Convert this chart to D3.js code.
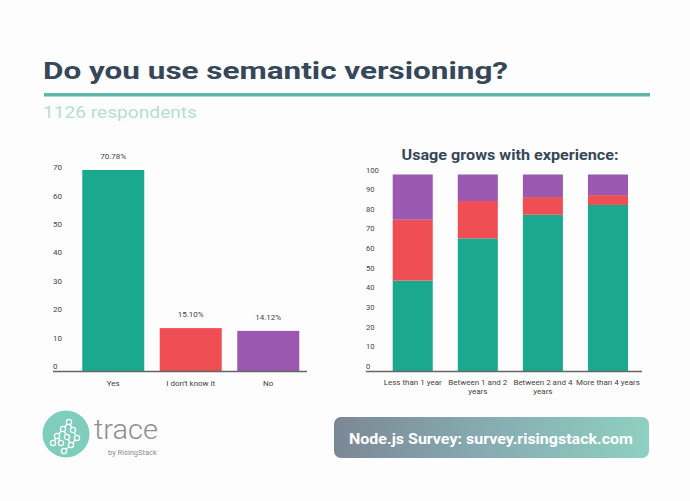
<!DOCTYPE html>
<html>
<head>
<meta charset="utf-8">
<script src="https://cdn.jsdelivr.net/npm/d3@7"></script>
<style>
  body { margin: 0; background: #fdfdfd; }
  text { font-family: Roboto, "Open Sans", sans-serif; }
</style>
</head>
<body>
<div id="chart"></div>
<script>
// left chart data
const answers = ["Yes", "I don't know it", "No"];
const shares = [70.78, 15.10, 14.12];
const shareLabels = ["70.78%", "15.10%", "14.12%"];
const leftTicks = [0, 10, 20, 30, 40, 50, 60, 70];

// right chart data (percent of each experience group)
const experience = ["Less than 1 year", "Between 1 and 2 years", "Between 2 and 4 years", "More than 4 years"];
const experienceLines = [["Less than 1 year"], ["Between 1 and 2", "years"], ["Between 2 and 4", "years"], ["More than 4 years"]];
const usesYes = [46, 67.5, 79.5, 84.5];
const dontKnow = [31, 19, 9, 5];
const usesNo = [23, 13.5, 11.5, 10.5];
const rightTicks = [0, 10, 20, 30, 40, 50, 60, 70, 80, 90, 100];

const colors = ["#1aa88f", "#f04e55", "#9b58b1"];

const width = 690, height = 501;

const svg = d3.select("#chart").append("svg")
    .attr("width", width)
    .attr("height", height);

svg.append("rect").attr("width", width).attr("height", height).attr("fill", "#fdfdfd");

// header
svg.append("text")
    .attr("x", 43).attr("y", 79)
    .attr("font-family", "'Open Sans', sans-serif")
    .attr("font-weight", 700)
    .attr("font-size", 24)
    .attr("fill", "#36475a")
    .attr("textLength", 465)
    .attr("lengthAdjust", "spacingAndGlyphs")
    .text("Do you use semantic versioning?");

svg.append("rect")
    .attr("x", 44).attr("y", 93).attr("width", 606).attr("height", 3.5)
    .attr("fill", "#5bb8a8");

svg.append("text")
    .attr("x", 43).attr("y", 118)
    .attr("font-family", "'Open Sans', sans-serif")
    .attr("font-size", 17)
    .attr("fill", "#b6ddd5")
    .attr("textLength", 154)
    .attr("lengthAdjust", "spacingAndGlyphs")
    .text("1126 respondents");

// ---- left chart ----
const x1 = d3.scaleBand().domain(answers).range([74.5, 307]).paddingInner(0.2).paddingOuter(0.1);
const y1 = d3.scaleLinear().domain([0, 70]).range([371, 172.2]);

const left = svg.append("g");

left.selectAll(".ytick")
  .data(leftTicks)
  .join("text")
    .attr("x", 53)
    .attr("y", d => y1(d) - 2)
    .attr("font-size", 8)
    .attr("fill", "#444")
    .text(d => d);

left.selectAll(".bar")
  .data(answers)
  .join("rect")
    .attr("x", d => x1(d))
    .attr("y", (d, i) => y1(shares[i]))
    .attr("width", x1.bandwidth())
    .attr("height", (d, i) => y1(0) - y1(shares[i]))
    .attr("fill", (d, i) => colors[i]);

left.selectAll(".val")
  .data(answers)
  .join("text")
    .attr("x", d => x1(d) + x1.bandwidth() / 2)
    .attr("y", (d, i) => y1(shares[i]) - 11)
    .attr("text-anchor", "middle")
    .attr("font-size", 8)
    .attr("fill", "#444")
    .text((d, i) => shareLabels[i]);

left.append("line")
    .attr("x1", 53).attr("x2", 307)
    .attr("y1", y1(0) + 0.5).attr("y2", y1(0) + 0.5)
    .attr("stroke", "#666").attr("stroke-width", 1.3);

left.selectAll(".xlab")
  .data(answers)
  .join("text")
    .attr("x", d => x1(d) + x1.bandwidth() / 2)
    .attr("y", 386)
    .attr("text-anchor", "middle")
    .attr("font-size", 8)
    .attr("fill", "#444")
    .text(d => d);

// ---- right chart ----
const x2 = d3.scaleBand().domain(experience).range([379.7, 641]).paddingInner(0.385).paddingOuter(0.2);
const y2 = d3.scaleLinear().domain([0, 100]).range([371, 174.5]);

const right = svg.append("g");

right.append("text")
    .attr("x", 510).attr("y", 160)
    .attr("text-anchor", "middle")
    .attr("font-family", "'Open Sans', sans-serif")
    .attr("font-weight", 700)
    .attr("font-size", 14)
    .attr("fill", "#36475a")
    .attr("textLength", 217)
    .attr("lengthAdjust", "spacingAndGlyphs")
    .text("Usage grows with experience:");

right.selectAll(".ytick")
  .data(rightTicks)
  .join("text")
    .attr("x", 366)
    .attr("y", d => y2(d) - 2)
    .attr("font-size", 7.5)
    .attr("fill", "#444")
    .text(d => d);

const rows = experience.map((e, i) => ({ key: e, yes: usesYes[i], dk: dontKnow[i], no: usesNo[i] }));
const stack = d3.stack().keys(["yes", "dk", "no"])(rows);

right.selectAll(".layer")
  .data(stack)
  .join("g")
    .attr("fill", (d, i) => colors[i])
  .selectAll("rect")
  .data(d => d)
  .join("rect")
    .attr("x", d => x2(d.data.key))
    .attr("y", d => y2(d[1]))
    .attr("width", x2.bandwidth())
    .attr("height", d => y2(d[0]) - y2(d[1]));

right.append("line")
    .attr("x1", 366).attr("x2", 642)
    .attr("y1", y2(0) + 0.5).attr("y2", y2(0) + 0.5)
    .attr("stroke", "#666").attr("stroke-width", 1.3);

right.selectAll(".xlab")
  .data(experience)
  .join("text")
    .attr("x", d => x2(d) + x2.bandwidth() / 2)
    .attr("y", 385)
    .attr("text-anchor", "middle")
    .attr("font-size", 8)
    .attr("fill", "#444")
  .selectAll("tspan")
  .data((d, i) => experienceLines[i])
  .join("tspan")
    .attr("x", function() { return this.parentNode.getAttribute("x"); })
    .attr("dy", (d, i) => i ? 9 : 0)
    .text(d => d);

// ---- footer ----
const logo = svg.append("g").attr("transform", "translate(66,434)");
logo.append("circle").attr("r", 23.5).attr("fill", "#7fcdbd");
const pts = [[3, -12], [-3, -5], [7, -4], [-9, 2], [1, 3], [11, 4], [-13, 9], [-5, 9], [5, 11], [-2, 17]];
const links = [[0, 1], [0, 2], [1, 3], [1, 4], [2, 5], [3, 6], [3, 7], [4, 8], [5, 8], [8, 9]];
logo.selectAll("line")
  .data(links)
  .join("line")
    .attr("x1", d => pts[d[0]][0]).attr("y1", d => pts[d[0]][1])
    .attr("x2", d => pts[d[1]][0]).attr("y2", d => pts[d[1]][1])
    .attr("stroke", "#fff").attr("stroke-width", 1.4);
logo.selectAll("circle.n")
  .data(pts)
  .join("circle")
    .attr("class", "n")
    .attr("cx", d => d[0]).attr("cy", d => d[1]).attr("r", 2.6)
    .attr("fill", "#7fcdbd").attr("stroke", "#fff").attr("stroke-width", 1.3);

svg.append("text")
    .attr("x", 94).attr("y", 439)
    .attr("font-family", "'Open Sans', sans-serif")
    .attr("font-weight", 300)
    .attr("font-size", 28)
    .attr("fill", "#8e8e8e")
    .attr("textLength", 64)
    .attr("lengthAdjust", "spacingAndGlyphs")
    .text("trace");

svg.append("text")
    .attr("x", 108).attr("y", 455)
    .attr("font-size", 7.5)
    .attr("fill", "#8e8e8e")
    .text("by RisingStack");

const defs = svg.append("defs");
const grad = defs.append("linearGradient").attr("id", "banner");
grad.append("stop").attr("offset", "0%").attr("stop-color", "#7c8795");
grad.append("stop").attr("offset", "45%").attr("stop-color", "#86a9b0");
grad.append("stop").attr("offset", "100%").attr("stop-color", "#8fd0c1");

svg.append("rect")
    .attr("x", 334).attr("y", 417).attr("width", 315).attr("height", 41)
    .attr("rx", 7)
    .attr("fill", "url(#banner)");

svg.append("text")
    .attr("x", 491).attr("y", 443.5)
    .attr("text-anchor", "middle")
    .attr("font-family", "'Open Sans', sans-serif")
    .attr("font-weight", 700)
    .attr("font-size", 15)
    .attr("fill", "#fff")
    .attr("textLength", 284)
    .attr("lengthAdjust", "spacingAndGlyphs")
    .text("Node.js Survey: survey.risingstack.com");
</script>
</body>
</html>
